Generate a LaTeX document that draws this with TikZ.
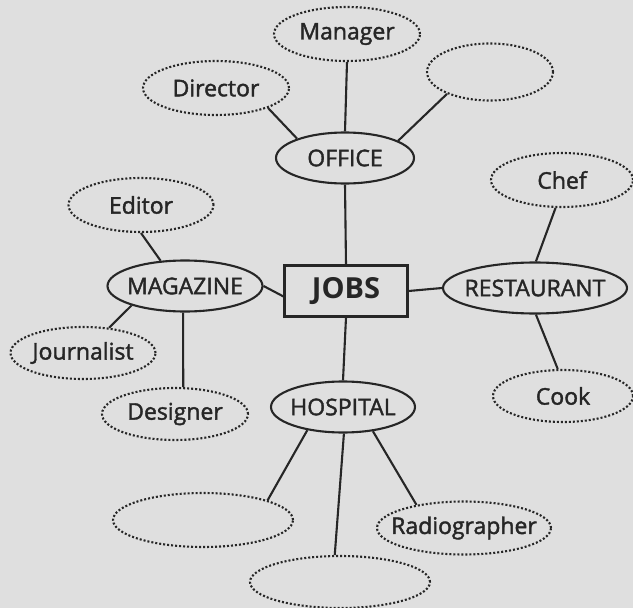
\documentclass[tikz,border=0pt]{standalone}
\usepackage{fontspec}
\setmainfont{Open Sans}
\newfontfamily\labelfont{Open Sans}[FakeBold=1.7]
\usepackage{tikz}
\usetikzlibrary{shapes.geometric}

\begin{document}
\begin{tikzpicture}[
	x = 1pt, y = -1pt,
    line width = 2.1pt,
    color = black!85,
    font = \labelfont\fontsize{23}{26}\selectfont,
    field/.style = {
      draw,
      ellipse,
      inner sep = 0pt,
      minimum width = 144pt,
      minimum height = 51pt},
    job/.style = {
      draw,
      ellipse,
      dash pattern = on 2pt off 2pt,
      inner sep = 0pt,
      minimum width = 146pt,
      minimum height = 54pt},
    hub/.style = {
      draw,
      rectangle,
      minimum width = 123pt,
      minimum height = 51pt,
      font = \bfseries\fontsize{29}{32}\selectfont}
      ]
  % Background paper
  \fill[color=gray!25] (0,0) rectangle (633,608);
  \useasboundingbox (0,0) rectangle (633,608);

  % Centre and the four fields
  \node[hub] (jobs) at (346,291) {JOBS};
  \node[field, minimum width=138pt] (office) at (345,158) {OFFICE};
  \node[field, minimum width=155pt, inner xsep=-4pt] (magazine) at (185,286) {MAGAZINE};
  \node[field, minimum width=184pt, inner xsep=-6pt] (restaurant) at (535,288) {RESTAURANT};
  \node[field, inner xsep=-2pt] (hospital) at (343,407) {HOSPITAL};

  % Jobs round each field
  \node[job] (manager) at (347,34) {Manager};
  \node[job] (director) at (216,88) {Director};
  \node[job, minimum width=126pt, minimum height=57pt] (office3) at (490,72) {};
  \node[job, minimum width=145pt] (editor) at (141,205) {Editor};
  \node[job, minimum width=145pt, minimum height=52pt] (journalist) at (83,353) {Journalist};
  \node[job, minimum height=52pt] (designer) at (175,414) {Designer};
  \node[job, minimum width=142pt] (chef) at (562,180) {Chef};
  \node[job, minimum width=140pt, minimum height=52pt] (cook) at (563,396) {Cook};
  \node[job, minimum width=180pt] (hospital1) at (203,520) {};
  \node[job, minimum width=180pt, minimum height=52pt] (hospital2) at (340,582) {};
  \node[job, minimum width=174pt, minimum height=53pt, inner xsep=-12pt] (radiographer) at (464,528) {Radiographer};

  % Connectors from the centre
  \draw (jobs.north) -- (office.south);
  \draw (jobs.185) -- (magazine.east);
  \draw (jobs.east) -- (restaurant.west);
  \draw (jobs.south) -- (hospital.north);

  % Connectors to the jobs
  \draw (office.158) -- (director.-21);
  \draw (office.north) -- (manager.south);
  \draw (office.18) -- (office3.207);
  \draw (magazine.134) -- (editor.south);
  \draw (magazine.200) -- (journalist.44);
  \draw (magazine.266) -- (designer.73);
  \draw (restaurant.88) -- (chef.257);
  \draw (restaurant.272) -- (cook.101);
  \draw (hospital.213) -- (hospital1.17);
  \draw (hospital.272) -- (hospital2.101);
  \draw (hospital.321) -- (radiographer.154);

\end{tikzpicture}
\end{document}
